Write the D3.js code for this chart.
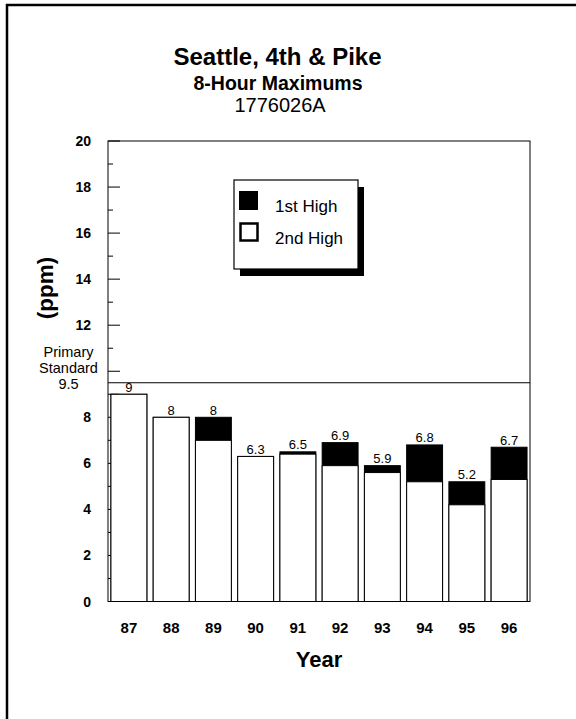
<!DOCTYPE html>
<html>
<head>
<meta charset="utf-8">
<script src="https://cdn.jsdelivr.net/npm/d3@7"></script>
<style>
  html, body { margin: 0; padding: 0; background: #fff; }
  svg { display: block; }
  text { font-family: "Liberation Sans", Arial, Helvetica, sans-serif; fill: #000; }
</style>
</head>
<body>
<svg id="chart" width="576" height="719"></svg>
<script>
const years = ["87", "88", "89", "90", "91", "92", "93", "94", "95", "96"];
const firstHigh = [9, 8, 8, 6.3, 6.5, 6.9, 5.9, 6.8, 5.2, 6.7];
const secondHigh = [9, 8, 7, 6.3, 6.4, 5.9, 5.6, 5.2, 4.2, 5.3];
const standard = 9.5;
const upperLabels = [12, 14, 16, 18, 20];
const lowerLabels = [0, 2, 4, 6, 8];
const upperTicks = [10, 11, 12, 13, 14, 15, 16, 17, 18, 19, 20];
const lowerTicks = [0, 1, 2, 3, 4, 5, 6, 7, 8, 9];

const svg = d3.select("#chart");
const pLeft = 108, pRight = 530, pTop = 141, pBottom = 601.5;

const x = d3.scaleBand().domain(years).range([pLeft, pRight]).paddingInner(0.15).paddingOuter(0.07);
const y = d3.scaleLinear().domain([0, 20]).range([pBottom, pTop]);

// outer frame (top and left visible)
svg.append("path").attr("d", "M7,740 L7,5 L600,5").attr("fill", "none").attr("stroke", "#000").attr("stroke-width", 2.5);

// titles
svg.append("text").attr("x", 277.5).attr("y", 65).attr("text-anchor", "middle")
  .attr("font-size", 24).attr("font-weight", "bold").text("Seattle, 4th & Pike");
svg.append("text").attr("x", 278).attr("y", 90).attr("text-anchor", "middle")
  .attr("font-size", 19.5).attr("font-weight", "bold").text("8-Hour Maximums");
svg.append("text").attr("x", 280).attr("y", 112).attr("text-anchor", "middle")
  .attr("font-size", 20).text("1776026A");

// plot frame
svg.append("rect").attr("x", pLeft).attr("y", pTop).attr("width", pRight - pLeft).attr("height", pBottom - pTop)
  .attr("fill", "none").attr("stroke", "#000").attr("stroke-width", 1);
svg.append("line").attr("x1", pLeft).attr("x2", pRight).attr("y1", y(standard)).attr("y2", y(standard))
  .attr("stroke", "#000").attr("stroke-width", 1);

// ticks
svg.selectAll("line.ut").data(upperTicks).enter().append("line")
  .attr("x1", pLeft).attr("x2", d => pLeft + (d % 2 === 0 ? 12 : 5))
  .attr("y1", d => y(d)).attr("y2", d => y(d)).attr("stroke", "#000").attr("stroke-width", 1);
svg.selectAll("line.lt").data(lowerTicks).enter().append("line")
  .attr("x1", pLeft).attr("x2", pLeft + 11)
  .attr("y1", d => y(d)).attr("y2", d => y(d)).attr("stroke", "#000").attr("stroke-width", 1);

// tick labels
svg.selectAll("text.ul").data(upperLabels.concat(lowerLabels)).enter().append("text")
  .attr("x", 91).attr("y", d => y(d) + 5).attr("text-anchor", "end")
  .attr("font-size", 14).attr("font-weight", "bold").text(d => d);

// Primary Standard label
["Primary", "Standard", String(standard)].forEach((t, i) => {
  svg.append("text").attr("x", 68.5).attr("y", 357 + i * 16).attr("text-anchor", "middle")
    .attr("font-size", 14.5).text(t);
});

// y axis title
svg.append("text").attr("transform", "translate(53,288) rotate(-90)").attr("text-anchor", "middle")
  .attr("font-size", 22.5).attr("font-weight", "bold").text("(ppm)");

// bars: black part (1st high) then white part (2nd high)
const bw = x.bandwidth();
svg.selectAll("rect.first").data(years).enter().append("rect")
  .attr("x", d => x(d)).attr("width", bw)
  .attr("y", (d, i) => y(firstHigh[i])).attr("height", (d, i) => y(0) - y(firstHigh[i]))
  .attr("fill", "#000").attr("stroke", "#000").attr("stroke-width", 1);
svg.selectAll("rect.second").data(years).enter().append("rect")
  .attr("x", d => x(d)).attr("width", bw)
  .attr("y", (d, i) => y(secondHigh[i])).attr("height", (d, i) => y(0) - y(secondHigh[i]))
  .attr("fill", "#fff").attr("stroke", "#000").attr("stroke-width", 1);

// value labels
svg.selectAll("text.val").data(years).enter().append("text")
  .attr("x", d => x(d) + bw / 2).attr("y", (d, i) => y(firstHigh[i]) - 2.5)
  .attr("text-anchor", "middle").attr("font-size", 13).text((d, i) => firstHigh[i]);

// x labels
svg.selectAll("text.xl").data(years).enter().append("text")
  .attr("x", d => x(d) + bw / 2).attr("y", 633).attr("text-anchor", "middle")
  .attr("font-size", 15).attr("font-weight", "bold").text(d => d);
svg.append("text").attr("x", (pLeft + pRight) / 2).attr("y", 667).attr("text-anchor", "middle")
  .attr("font-size", 22).attr("font-weight", "bold").text("Year");

// legend
const lg = svg.append("g");
lg.append("rect").attr("x", 240).attr("y", 187).attr("width", 124).attr("height", 89).attr("fill", "#000");
lg.append("rect").attr("x", 234).attr("y", 180).attr("width", 124).attr("height", 89)
  .attr("fill", "#fff").attr("stroke", "#000").attr("stroke-width", 1.2);
lg.append("rect").attr("x", 239).attr("y", 191).attr("width", 19).attr("height", 19).attr("fill", "#000");
lg.append("rect").attr("x", 240.5).attr("y", 223.5).attr("width", 17).attr("height", 17)
  .attr("fill", "#fff").attr("stroke", "#000").attr("stroke-width", 2.5);
lg.append("text").attr("x", 275).attr("y", 212).attr("font-size", 17).text("1st High");
lg.append("text").attr("x", 275).attr("y", 244).attr("font-size", 17).text("2nd High");
</script>
</body>
</html>
